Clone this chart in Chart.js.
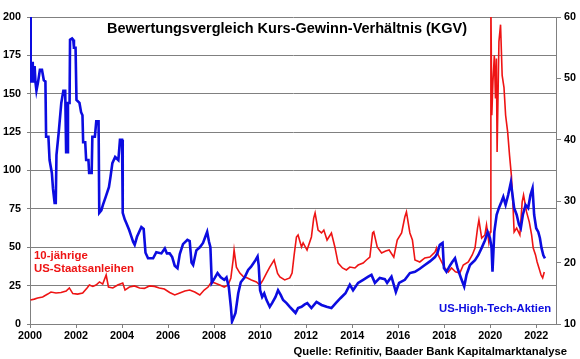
<!DOCTYPE html>
<html>
<head>
<meta charset="utf-8">
<script src="https://cdn.jsdelivr.net/npm/chart.js@4.4.1/dist/chart.umd.min.js"></script>
<style>
  html, body { margin: 0; padding: 0; background: #ffffff; }
  #wrap { width: 580px; height: 359px; position: relative; }
</style>
</head>
<body>
<div id="wrap"><canvas id="c" width="580" height="359"></canvas></div>
<script>
// ---------- data ----------
const titleText = 'Bewertungsvergleich Kurs-Gewinn-Verhältnis (KGV)';
const sourceText = 'Quelle: Refinitiv, Baader Bank Kapitalmarktanalyse';
const redLabel = ['10-jährige', 'US-Staatsanleihen'];
const blueLabel = 'US-High-Tech-Aktien';

const xTickYears = [2000, 2002, 2004, 2006, 2008, 2010, 2012, 2014, 2016, 2018, 2020, 2022];
const leftTicks = [0, 25, 50, 75, 100, 125, 150, 175, 200];
const rightTicks = [10, 20, 30, 40, 50, 60];

// US-High-Tech-Aktien KGV (right axis)
const techYears = [
  2000.00, 2000.03, 2000.06, 2000.12, 2000.14, 2000.20, 2000.24, 2000.28, 2000.35, 2000.43,
  2000.52, 2000.60, 2000.67, 2000.70, 2000.80, 2000.85, 2000.95, 2001.00, 2001.07, 2001.12,
  2001.15, 2001.25, 2001.36, 2001.45, 2001.53, 2001.57, 2001.62, 2001.65, 2001.72, 2001.74,
  2001.83, 2001.88, 2001.91, 2001.98, 2002.02, 2002.15, 2002.22, 2002.28, 2002.31, 2002.40,
  2002.44, 2002.54, 2002.57, 2002.68, 2002.71, 2002.82, 2002.88, 2002.98, 2003.01, 2003.10,
  2003.17, 2003.29, 2003.43, 2003.50, 2003.58, 2003.70, 2003.84, 2003.91, 2004.00, 2004.03,
  2004.12, 2004.19, 2004.31, 2004.41, 2004.48, 2004.55, 2004.65, 2004.84, 2004.94, 2005.02,
  2005.13, 2005.35, 2005.49, 2005.71, 2005.86, 2005.95, 2006.07, 2006.18, 2006.29, 2006.41,
  2006.51, 2006.65, 2006.84, 2006.94, 2007.02, 2007.09, 2007.23, 2007.38, 2007.52, 2007.62,
  2007.70, 2007.78, 2007.84, 2007.90, 2008.03, 2008.15, 2008.29, 2008.44, 2008.54, 2008.64,
  2008.73, 2008.78, 2008.87, 2008.93, 2009.05, 2009.16, 2009.33, 2009.48, 2009.60, 2009.71,
  2009.80, 2009.89, 2009.94, 2010.00, 2010.09, 2010.18, 2010.28, 2010.42, 2010.52, 2010.67,
  2010.78, 2010.90, 2011.00, 2011.15, 2011.29, 2011.44, 2011.54, 2011.65, 2011.80, 2011.94,
  2012.05, 2012.23, 2012.45, 2012.67, 2012.89, 2013.10, 2013.29, 2013.49, 2013.71, 2013.90,
  2014.04, 2014.26, 2014.48, 2014.70, 2014.84, 2014.99, 2015.20, 2015.42, 2015.52, 2015.71,
  2015.90, 2016.04, 2016.29, 2016.51, 2016.73, 2016.94, 2017.16, 2017.38, 2017.60, 2017.70,
  2017.81, 2017.93, 2017.99, 2018.10, 2018.25, 2018.35, 2018.47, 2018.58, 2018.73, 2018.87,
  2018.97, 2019.12, 2019.34, 2019.48, 2019.63, 2019.77, 2019.89, 2019.99, 2020.06, 2020.10,
  2020.18, 2020.28, 2020.38, 2020.49, 2020.57, 2020.67, 2020.78, 2020.90, 2020.97, 2021.04,
  2021.15, 2021.25, 2021.33, 2021.42, 2021.54, 2021.65, 2021.75, 2021.84, 2021.91, 2022.00,
  2022.09, 2022.16, 2022.23, 2022.31, 2022.38
];
const techKGV = [
  60.0, 49.3, 52.5, 52.5, 49.3, 52.0, 49.3, 48.0, 49.4, 51.4,
  51.4, 49.7, 49.5, 40.5, 40.5, 36.7, 34.6, 32.0, 29.7, 29.7,
  37.5, 41.3, 46.0, 48.0, 48.0, 38.0, 38.0, 46.0, 46.0, 56.3,
  56.5, 56.3, 55.0, 55.0, 46.5, 46.0, 44.5, 44.0, 39.6, 39.6,
  36.7, 36.7, 34.6, 34.6, 40.5, 40.5, 43.0, 43.0, 28.1, 28.5,
  29.4, 30.7, 32.3, 34.0, 36.2, 37.2, 36.7, 40.0, 40.0, 28.1,
  27.0, 26.4, 25.3, 24.2, 23.4, 22.9, 24.2, 25.8, 25.5, 21.6,
  20.7, 20.7, 21.7, 21.5, 22.3, 21.5, 21.5, 20.9, 19.5, 19.1,
  21.4, 23.0, 23.7, 23.5, 20.0, 19.6, 22.0, 22.5, 23.2, 24.2,
  25.0, 23.4, 22.5, 16.7, 17.5, 18.3, 17.6, 17.2, 17.6, 16.0,
  12.8, 10.4, 11.2, 11.8, 15.0, 16.8, 17.6, 18.8, 19.3, 19.9,
  20.4, 21.0, 19.5, 15.5, 14.4, 15.0, 13.9, 12.8, 13.4, 14.4,
  15.5, 14.7, 13.9, 13.4, 12.8, 12.2, 11.8, 12.6, 12.8, 13.2,
  13.4, 12.6, 13.6, 13.1, 12.8, 12.6, 13.4, 14.2, 15.0, 16.4,
  15.5, 16.7, 17.2, 17.7, 18.0, 16.7, 17.5, 17.3, 16.7, 17.7,
  15.2, 16.7, 17.2, 18.3, 18.5, 19.0, 19.6, 20.2, 20.9, 21.5,
  22.9, 23.2, 19.1, 18.5, 19.5, 20.1, 20.7, 19.1, 17.5, 16.1,
  18.0, 19.6, 20.4, 21.2, 22.4, 23.6, 25.0, 24.0, 22.4, 18.5,
  25.0, 27.8, 28.9, 29.9, 30.7, 29.4, 31.0, 33.1, 31.0, 28.9,
  27.8, 26.2, 25.6, 27.8, 29.4, 28.9, 31.0, 32.1, 27.8, 25.6,
  25.0, 24.0, 22.4, 21.2, 20.7
];

// 10-jährige US-Staatsanleihen KGV (left axis)
const bondYears = [
  2000.02, 2000.19, 2000.33, 2000.55, 2000.77, 2000.91, 2001.13, 2001.35, 2001.57, 2001.71,
  2001.86, 2002.07, 2002.29, 2002.48, 2002.58, 2002.73, 2002.87, 2003.02, 2003.16, 2003.31,
  2003.41, 2003.60, 2003.81, 2004.03, 2004.13, 2004.32, 2004.54, 2004.76, 2004.97, 2005.19,
  2005.41, 2005.62, 2005.84, 2006.07, 2006.29, 2006.51, 2006.73, 2006.94, 2007.16, 2007.38,
  2007.57, 2007.74, 2007.89, 2008.03, 2008.25, 2008.44, 2008.61, 2008.73, 2008.83, 2008.87,
  2008.97, 2009.12, 2009.26, 2009.45, 2009.62, 2009.84, 2009.99, 2010.13, 2010.28, 2010.42,
  2010.61, 2010.76, 2010.86, 2011.07, 2011.29, 2011.39, 2011.48, 2011.58, 2011.65, 2011.80,
  2011.87, 2012.04, 2012.23, 2012.33, 2012.39, 2012.52, 2012.67, 2012.77, 2012.91, 2013.10,
  2013.25, 2013.39, 2013.58, 2013.75, 2013.90, 2014.12, 2014.26, 2014.48, 2014.62, 2014.77,
  2014.89, 2014.94, 2015.09, 2015.28, 2015.46, 2015.61, 2015.81, 2015.96, 2016.15, 2016.29,
  2016.36, 2016.51, 2016.62, 2016.73, 2016.94, 2017.16, 2017.38, 2017.60, 2017.67, 2017.74,
  2017.89, 2018.03, 2018.18, 2018.32, 2018.49, 2018.68, 2018.83, 2019.05, 2019.22, 2019.34,
  2019.45, 2019.51, 2019.63, 2019.77, 2019.84, 2019.94, 2020.00, 2020.03, 2020.07, 2020.12,
  2020.18, 2020.23, 2020.27, 2020.30, 2020.38, 2020.45, 2020.52, 2020.60, 2020.67, 2020.76,
  2020.84, 2020.92, 2020.99, 2021.04, 2021.15, 2021.29, 2021.39, 2021.45, 2021.58, 2021.70,
  2021.80, 2021.87, 2021.97, 2022.04, 2022.12, 2022.21, 2022.28, 2022.35
];
const bondKGV = [
  15.6, 16.2, 16.9, 17.6, 19.5, 20.8, 20.2, 20.5, 21.5, 23.5,
  19.8, 19.5, 20.2, 23.5, 25.4, 24.5, 25.4, 27.4, 26.0, 31.9,
  24.1, 23.5, 25.4, 26.7, 22.1, 24.1, 24.8, 23.5, 23.2, 24.8,
  24.5, 23.5, 22.8, 20.5, 18.9, 20.2, 21.5, 22.1, 20.8, 18.9,
  22.1, 24.1, 27.4, 26.7, 25.4, 24.1, 25.4, 30.0, 42.0, 48.2,
  37.0, 33.2, 31.0, 30.0, 28.7, 27.4, 25.4, 28.7, 33.2, 37.1,
  41.7, 33.0, 30.6, 28.7, 30.0, 33.2, 45.0, 56.7, 58.0, 50.2,
  52.8, 48.2, 56.7, 69.0, 72.3, 61.2, 59.3, 61.2, 54.7, 59.3,
  50.2, 39.7, 36.5, 35.2, 37.1, 36.5, 38.4, 39.7, 41.7, 43.6,
  59.3, 60.0, 50.2, 46.3, 47.5, 48.2, 43.6, 54.7, 59.3, 69.7,
  73.0, 59.3, 54.7, 41.7, 40.4, 43.0, 43.6, 46.9, 49.5, 45.0,
  40.4, 36.5, 33.9, 36.5, 34.0, 33.2, 38.4, 40.4, 45.0, 49.5,
  62.5, 67.8, 56.0, 58.0, 64.5, 53.4, 60.0, 210, 136, 158,
  175, 147, 173, 112, 184, 195, 162, 154, 136, 125,
  110, 97, 77.5, 60.0, 62.5, 58.0, 79.5, 84.0, 73.0, 66.4,
  58.0, 49.5, 45.0, 40.4, 36.5, 31.9, 30.0, 33.9
];

// ---------- styling ----------
const BLUE = '#0c0ce0';
const RED = '#ee1414';
const GRID = '#808080';
const FONT = '"Liberation Sans", Arial, sans-serif';

const techPoints = techYears.map((yr, i) => ({ x: yr, y: techKGV[i] }));
const bondPoints = bondYears.map((yr, i) => ({ x: yr, y: bondKGV[i] }));

const textPlugin = {
  id: 'texts',
  afterDraw(chart) {
    const ctx = chart.ctx;
    ctx.save();
    ctx.textBaseline = 'middle';
    ctx.fillStyle = '#000000';
    ctx.textAlign = 'center';
    ctx.font = 'bold 14.5px ' + FONT;
    ctx.fillText(titleText, 287, 29);

    ctx.textAlign = 'right';
    ctx.font = 'bold 11.3px ' + FONT;
    ctx.fillText(sourceText, 567, 352);

    ctx.textAlign = 'left';
    ctx.fillStyle = RED;
    ctx.font = 'bold 11.4px ' + FONT;
    ctx.fillText(redLabel[0], 34, 256);
    ctx.fillText(redLabel[1], 34, 268.5);

    ctx.fillStyle = BLUE;
    ctx.font = 'bold 11.3px ' + FONT;
    ctx.fillText(blueLabel, 439, 309);
    ctx.restore();
  }
};

const tickFont = { family: FONT, size: 10.8, weight: 'bold' };

new Chart(document.getElementById('c'), {
  type: 'line',
  data: {
    datasets: [
      {
        label: blueLabel,
        data: techPoints,
        yAxisID: 'y1',
        borderColor: BLUE,
        borderWidth: 2.6,
        pointRadius: 0,
        tension: 0,
        order: 0
      },
      {
        label: redLabel.join(' '),
        data: bondPoints,
        yAxisID: 'y',
        borderColor: RED,
        borderWidth: 1.6,
        pointRadius: 0,
        tension: 0,
        order: 1
      }
    ]
  },
  options: {
    responsive: false,
    animation: false,
    devicePixelRatio: 1,
    layout: { padding: { top: 17, left: 0, right: 0, bottom: 0 } },
    plugins: {
      legend: { display: false },
      tooltip: { enabled: false },
      title: { display: false }
    },
    scales: {
      x: {
        type: 'linear',
        min: 2000,
        max: 2022.86,
        afterBuildTicks: (s) => { s.ticks = xTickYears.map(v => ({ value: v })); },
        afterFit: (s) => { s.height = 35; },
        ticks: {
          color: '#000000',
          font: tickFont,
          padding: 2,
          maxRotation: 0,
          autoSkip: false,
          callback: (v) => String(v)
        },
        grid: { drawOnChartArea: false, drawTicks: true, tickLength: 4, color: GRID },
        border: { display: true, color: GRID, width: 1 }
      },
      y: {
        position: 'left',
        min: 0,
        max: 200,
        afterBuildTicks: (s) => { s.ticks = leftTicks.map(v => ({ value: v })); },
        afterFit: (s) => { s.width = 30; },
        ticks: { color: '#000000', font: tickFont, padding: 6 },
        grid: { color: GRID, lineWidth: 1, drawTicks: true, tickLength: 3 },
        border: { display: true, color: GRID, width: 1 }
      },
      y1: {
        position: 'right',
        min: 10,
        max: 60,
        afterBuildTicks: (s) => { s.ticks = rightTicks.map(v => ({ value: v })); },
        afterFit: (s) => { s.width = 24; },
        ticks: { color: '#000000', font: tickFont, padding: 3 },
        grid: { drawOnChartArea: false, drawTicks: true, tickLength: 5, color: GRID },
        border: { display: true, color: GRID, width: 1 }
      }
    }
  },
  plugins: [textPlugin]
});
</script>
</body>
</html>
